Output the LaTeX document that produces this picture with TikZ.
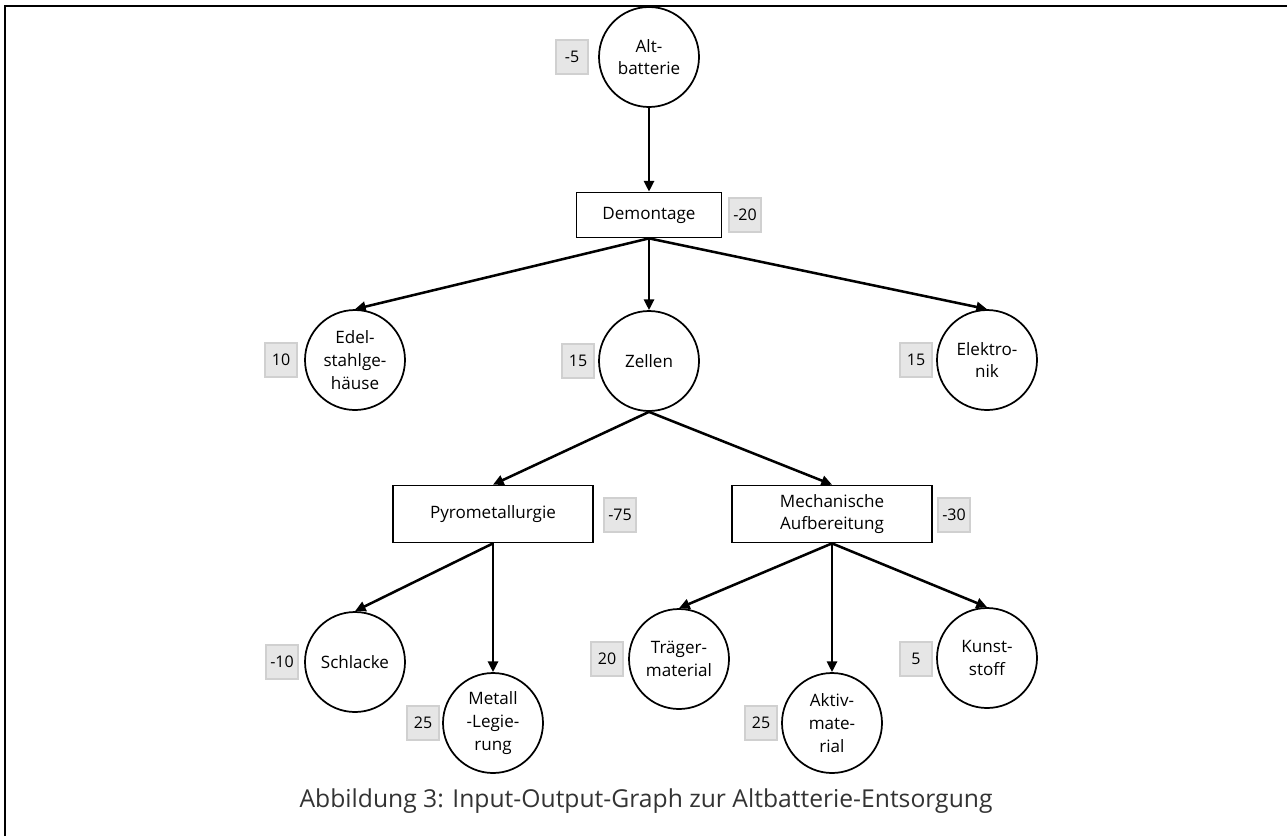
\documentclass[tikz,border=0pt]{standalone}
\usepackage{fontspec}
\setmainfont{Open Sans}
\usetikzlibrary{arrows.meta}
\definecolor{numfill}{HTML}{E6E6E6}
\definecolor{numdraw}{HTML}{D0D0D0}
\definecolor{captext}{HTML}{333333}
\definecolor{nodetext}{HTML}{000000}
\begin{document}
\begin{tikzpicture}[x=0.75pt,y=-0.75pt,
  circ/.style={circle, draw, line width=1.3pt, minimum size=75pt, inner sep=0pt, align=center, text=nodetext, font=\fontsize{12.8}{17}\selectfont},
  proc/.style={rectangle, draw, line width=1.3pt, inner sep=0pt, align=center, text=nodetext, font=\fontsize{12.8}{17}\selectfont},
  num/.style={rectangle, draw=numdraw, fill=numfill, line width=1pt, minimum width=24pt, minimum height=25.5pt, inner sep=0pt, text=nodetext, font=\fontsize{12}{14}\selectfont},
  arr/.style={-{Triangle[length=8pt,width=7.5pt]}, line width=1.9pt},
  frame/.style={line width=1.9pt}]
\useasboundingbox (0,0) rectangle (1287,836);
\draw[frame] (5,836) -- (5,6) -- (1287,6);

\node[circ] (alt) at (649,57) {Alt-\\batterie};
\node[num] (nalt) at (572,57) {-5};

\node[proc, minimum width=108.75pt, minimum height=33.75pt] (dem) at (649,215) {Demontage};
\node[num] (ndem) at (745,215) {-20};

\node[circ] (edel) at (355,360) {Edel-\\stahlge-\\häuse};
\node[num] (nedel) at (281,360) {10};
\node[circ] (zel) at (649,361) {Zellen};
\node[num] (nzel) at (578,361) {15};
\node[circ] (elek) at (987,360) {Elektro-\\nik};
\node[num] (nelek) at (916,360) {15};

\node[proc, minimum width=150pt, minimum height=42.75pt] (pyro) at (493,514) {Pyrometallurgie};
\node[num] (npyro) at (620,515) {-75};
\node[proc, minimum width=150pt, minimum height=42.75pt] (mech) at (832,514) {Mechanische\\Aufbereitung};
\node[num] (nmech) at (954,515) {-30};

\node[circ] (schl) at (355,662) {Schlacke};
\node[num] (nschl) at (282,662) {-10};
\node[circ] (met) at (493,723) {Metall\\-Legie-\\rung};
\node[num] (nmet) at (423,723) {25};
\node[circ] (trae) at (679,659) {Träger-\\material};
\node[num] (ntrae) at (607,659) {20};
\node[circ] (akt) at (832,723) {Aktiv-\\mate-\\rial};
\node[num] (nakt) at (761,723) {25};
\node[circ] (kun) at (987,658) {Kunst-\\stoff};
\node[num] (nkun) at (916,659) {5};

\draw[arr] (alt.south) -- (dem.north);
\draw[arr] (dem.south) -- (edel.north);
\draw[arr] (dem.south) -- (zel.north);
\draw[arr] (dem.south) -- (elek.north);
\draw[arr] (zel.south) -- (pyro.north);
\draw[arr] (zel.south) -- (mech.north);
\draw[arr] (pyro.south) -- (schl.north);
\draw[arr] (pyro.south) -- (met.north);
\draw[arr] (mech.south) -- (trae.north);
\draw[arr] (mech.south) -- (akt.north);
\draw[arr] (mech.south) -- (kun.north);

\node[text=captext, font=\fontsize{18.5}{22}\selectfont, inner sep=0pt] (cap) at (646,801) {Abbildung 3: Input-Output-Graph zur Altbatterie-Entsorgung};
\end{tikzpicture}
\end{document}
